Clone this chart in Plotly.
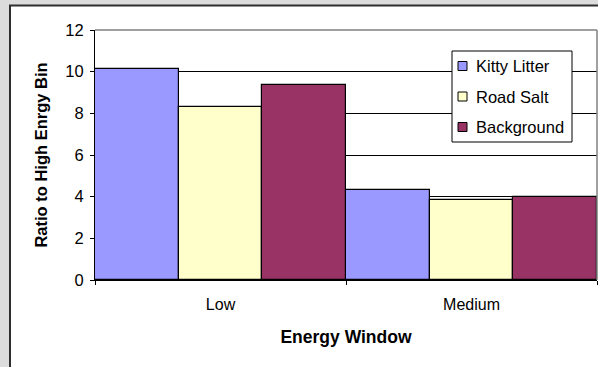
import plotly.graph_objects as go

# Ratio of counts in each energy window to the high-energy bin
windows = ["Low", "Medium"]
kitty_litter = [10.14, 4.30]
road_salt = [8.30, 3.84]
background = [9.38, 4.00]

series = [
    ("Kitty Litter", kitty_litter, "#9999FF"),
    ("Road Salt", road_salt, "#FFFFCC"),
    ("Background", background, "#993366"),
]

FONT = "Liberation Sans, Arial, sans-serif"

fig = go.Figure()
for name, vals, color in series:
    fig.add_trace(go.Bar(
        x=windows, y=vals, name=name, showlegend=False,
        marker=dict(color=color, line=dict(color="black", width=1.2)),
    ))

W, H = 598, 367
L, R, T, B = 95, 1, 30, 87
pw, ph = W - L - R, H - T - B

def px_x(p):
    return (p - L) / pw

def px_y(p):
    return (H - B - p) / ph

shapes = [
    # white chart frame
    dict(type="rect", xref="paper", yref="paper",
         x0=px_x(10), x1=px_x(620), y0=px_y(390), y1=px_y(5.5),
         fillcolor="white", line=dict(color="#2E2E2E", width=2), layer="below"),
    # plot-area border (top and right)
    dict(type="line", xref="paper", yref="paper", x0=0, x1=1, y0=1, y1=1,
         line=dict(color="#808080", width=1.5)),
    dict(type="line", xref="paper", yref="paper", x0=1, x1=1, y0=0, y1=1,
         line=dict(color="#808080", width=1.5)),
    # legend box
    dict(type="rect", xref="paper", yref="paper",
         x0=px_x(452), x1=px_x(572), y0=px_y(142), y1=px_y(51),
         fillcolor="white", line=dict(color="black", width=1)),
]
annotations = []
for i, (name, _, color) in enumerate(series):
    cy = 66 + i * 30.5
    shapes.append(dict(type="rect", xref="paper", yref="paper",
                       x0=px_x(458), x1=px_x(467), y0=px_y(cy + 4.5), y1=px_y(cy - 4.5),
                       fillcolor=color, line=dict(color="black", width=1)))
    annotations.append(dict(xref="paper", yref="paper", x=px_x(474), y=px_y(cy),
                            xanchor="left", yanchor="middle", showarrow=False,
                            text=name, font=dict(size=16.5)))

fig.update_layout(
    width=W, height=H,
    margin=dict(l=L, r=R, t=T, b=B),
    paper_bgcolor="#DCDCDC",
    plot_bgcolor="white",
    barmode="group", bargap=0, bargroupgap=0,
    font=dict(family=FONT, size=16, color="black"),
    showlegend=False,
    shapes=shapes,
    annotations=annotations,
)

fig.update_yaxes(
    range=[0, 12], dtick=2, tick0=0,
    showgrid=True, gridcolor="black", gridwidth=1,
    showline=True, linecolor="black", linewidth=1,
    ticks="outside", ticklen=4, tickcolor="black",
    tickfont=dict(size=16.5), ticklabelstandoff=3,
    title=dict(text="<b>Ratio to High Enrgy Bin</b>", font=dict(size=16.5), standoff=13),
    zeroline=False,
)
fig.update_xaxes(
    showline=True, linecolor="black", linewidth=1,
    ticks="outside", ticklen=4, tickcolor="black", tickson="boundaries",
    tickfont=dict(size=16), ticklabelstandoff=10,
    title=dict(text="<b>Energy Window</b>", font=dict(size=17.5), standoff=18),
)

fig.write_html("out.html")
